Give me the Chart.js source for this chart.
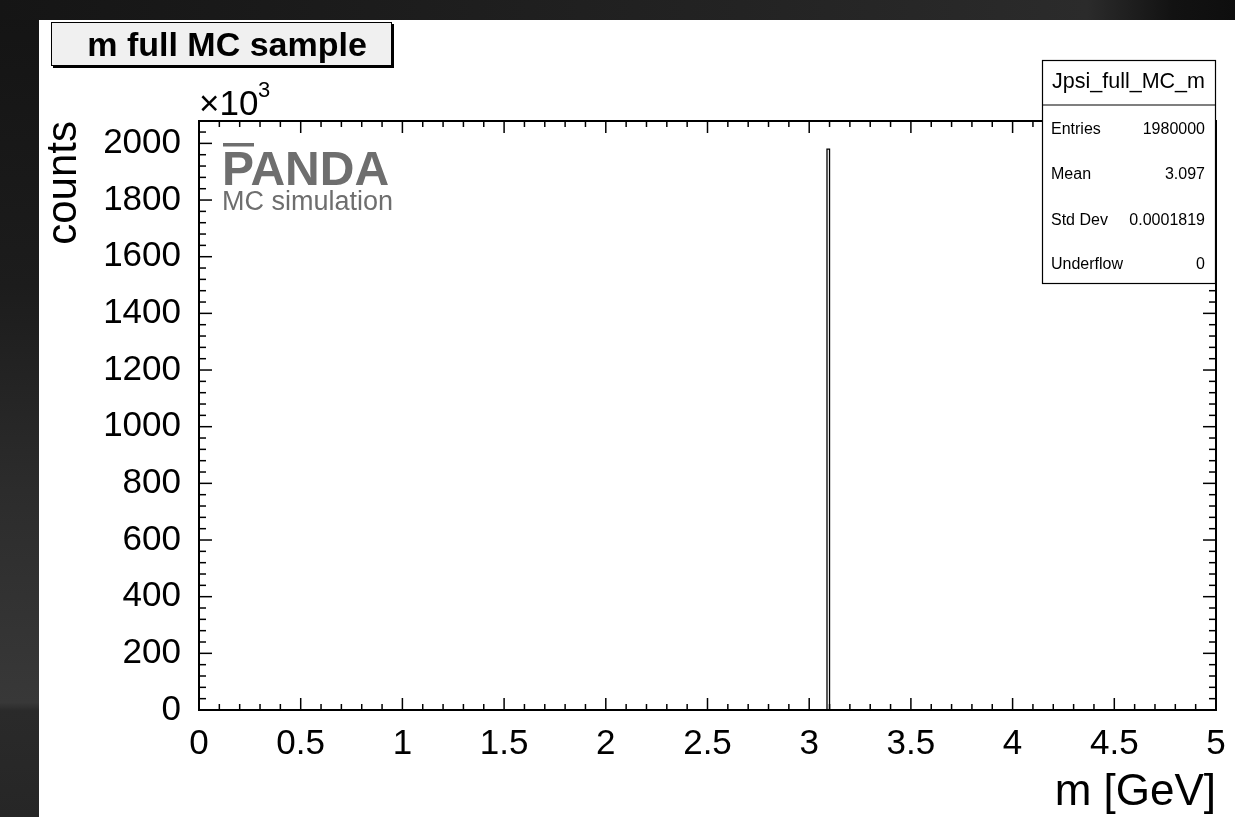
<!DOCTYPE html>
<html><head><meta charset="utf-8">
<script src="https://cdn.jsdelivr.net/npm/chart.js@4.4.1/dist/chart.umd.min.js"></script>
<style>html,body{margin:0;padding:0;background:#1b1b1b;overflow:hidden}canvas{display:block}</style>
</head><body>
<canvas id="c" width="1235" height="817"></canvas>
<script>
// ---- data ----
const xTickValues = [0, 0.5, 1, 1.5, 2, 2.5, 3, 3.5, 4, 4.5, 5];
const xTickLabels = ['0', '0.5', '1', '1.5', '2', '2.5', '3', '3.5', '4', '4.5', '5'];
const yTickValues = [0, 200, 400, 600, 800, 1000, 1200, 1400, 1600, 1800, 2000];
const yTickLabels = ['0', '200', '400', '600', '800', '1000', '1200', '1400', '1600', '1800', '2000'];
const xRange = [0, 5];
const yRange = [0, 2079];
const xMinorStep = 0.1;
const yMinorStep = 40;
// histogram: non-empty bins (counts in units of 10^3)
const binLow = [3.0875];
const binHigh = [3.1];
const binCounts = [1980];
const plotTitle = 'm full MC sample';
const xTitle = 'm [GeV]';
const yTitle = 'counts';
const statsName = 'Jpsi_full_MC_m';
const statsLabels = ['Entries', 'Mean', 'Std Dev', 'Underflow'];
const statsValues = ['1980000', '3.097', '0.0001819', '0'];

const FONT = "'Liberation Sans', Arial, Helvetica, sans-serif";

const histPts = [{x: xRange[0], y: 0}];
binLow.forEach((lo, i) => {
  histPts.push({x: lo, y: 0}, {x: lo, y: binCounts[i]}, {x: binHigh[i], y: binCounts[i]}, {x: binHigh[i], y: 0});
});
histPts.push({x: xRange[1], y: 0});

const bgPlugin = {
  id: 'bg',
  beforeDraw(chart) {
    const c = chart.ctx, W = chart.width, H = chart.height;
    c.save();
    const g = c.createLinearGradient(0, 0, 0, H);
    g.addColorStop(0, '#141414'); g.addColorStop(0.35, '#1c1c1c');
    g.addColorStop(0.6, '#2c2c2c'); g.addColorStop(0.86, '#383838');
    g.addColorStop(0.87, '#2a2a2a'); g.addColorStop(1, '#262626');
    c.fillStyle = g; c.fillRect(0, 0, W, H);
    const g2 = c.createLinearGradient(0, 0, W, 0);
    g2.addColorStop(0, '#151515'); g2.addColorStop(0.6, '#232323');
    g2.addColorStop(0.88, '#2b2b2b'); g2.addColorStop(0.95, '#121212'); g2.addColorStop(1, '#0e0e0e');
    c.fillStyle = g2; c.fillRect(0, 0, W, 20);
    c.fillStyle = '#ffffff'; c.fillRect(39, 20, W - 39, H - 20);
    c.restore();
  }
};

const framePlugin = {
  id: 'frame',
  afterDraw(chart) {
    const c = chart.ctx, a = chart.chartArea, xs = chart.scales.x, ys = chart.scales.y;
    c.save();
    c.strokeStyle = '#000';
    c.lineWidth = 2;
    c.strokeRect(a.left, a.top, a.right - a.left, a.bottom - a.top);
    c.lineWidth = 1.5;
    const seg = (x1, y1, x2, y2) => { c.beginPath(); c.moveTo(x1, y1); c.lineTo(x2, y2); c.stroke(); };
    // x ticks
    for (let v = xRange[0]; v <= xRange[1] + 1e-9; v += xMinorStep) {
      const vv = Math.round(v * 1000) / 1000;
      const isMajor = xTickValues.some(t => Math.abs(t - vv) < 1e-6);
      const L = isMajor ? 12 : 6;
      const px = xs.getPixelForValue(vv);
      seg(px, a.bottom, px, a.bottom - L);
      seg(px, a.top, px, a.top + L);
    }
    for (let v = yRange[0]; v <= yRange[1]; v += yMinorStep) {
      const isMajor = yTickValues.includes(v);
      const L = isMajor ? 13 : 7;
      const py = ys.getPixelForValue(v);
      seg(a.left, py, a.left + L, py);
      seg(a.right, py, a.right - L, py);
    }
    // x10^3 multiplier
    c.fillStyle = '#000';
    c.textBaseline = 'alphabetic';
    c.textAlign = 'left';
    c.font = '35px ' + FONT;
    c.fillText('\u00d710', 199, 115);
    c.font = '22px ' + FONT;
    c.fillText('3', 258, 97);
    // PANDA logo
    c.fillStyle = '#6e6e6e';
    c.font = 'bold 48px ' + FONT;
    c.fillText('PANDA', 222, 185);
    c.fillRect(223, 143, 31, 3.5);
    c.font = '27px ' + FONT;
    c.fillText('MC simulation', 222, 210);
    // title box
    c.fillStyle = '#000';
    c.fillRect(53, 24, 341, 44);
    c.fillStyle = '#f0f0f0';
    c.fillRect(51, 22, 341, 44);
    c.lineWidth = 1; c.strokeStyle = '#000';
    c.strokeRect(51.5, 22.5, 340, 43);
    c.fillStyle = '#000';
    c.font = 'bold 34px ' + FONT;
    c.textAlign = 'center';
    c.fillText(plotTitle, 227, 56);
    // stats box
    c.fillStyle = '#fff';
    c.fillRect(1042, 60, 174, 224);
    c.strokeStyle = '#000'; c.lineWidth = 1.2;
    c.strokeRect(1042.5, 60.5, 173, 223);
    seg(1042.5, 105, 1215.5, 105);
    c.fillStyle = '#000';
    c.font = '21.5px ' + FONT;
    c.textAlign = 'center';
    c.fillText(statsName, 1128.5, 88);
    const rowBase = [133.5, 179, 224.5, 268.5];
    c.font = '16px ' + FONT;
    statsLabels.forEach((t, i) => {
      c.textAlign = 'left'; c.fillText(t, 1051, rowBase[i]);
      c.textAlign = 'right'; c.fillText(statsValues[i], 1205, rowBase[i]);
    });
    c.restore();
  }
};

new Chart(document.getElementById('c').getContext('2d'), {
  type: 'line',
  data: { datasets: [{ data: histPts, borderColor: '#000', borderWidth: 1.3, pointRadius: 0, fill: false, tension: 0 }] },
  options: {
    responsive: false, animation: false, devicePixelRatio: 1,
    layout: { padding: { left: 39, top: 121, right: 19, bottom: 0 } },
    plugins: { legend: { display: false }, tooltip: { enabled: false } },
    scales: {
      x: {
        type: 'linear', min: xRange[0], max: xRange[1],
        grid: { display: false, drawTicks: false }, border: { display: false },
        afterBuildTicks: s => { s.ticks = xTickValues.map(v => ({ value: v })); },
        afterFit: s => { s.height = 107; s.paddingLeft = 0; s.paddingRight = 0; },
        ticks: { color: '#000', font: { family: FONT, size: 35 }, padding: 13, maxRotation: 0, autoSkip: false,
                 callback: v => xTickLabels[xTickValues.indexOf(v)] },
        title: { display: true, text: xTitle, align: 'end', color: '#000', font: { family: FONT, size: 44 }, padding: { top: 0, bottom: -2 } }
      },
      y: {
        type: 'linear', min: yRange[0], max: yRange[1],
        grid: { display: false, drawTicks: false }, border: { display: false },
        afterBuildTicks: s => { s.ticks = yTickValues.map(v => ({ value: v })); },
        afterFit: s => { s.width = 160; s.paddingTop = 0; s.paddingBottom = 0; },
        ticks: { color: '#000', font: { family: FONT, size: 35 }, padding: 18, autoSkip: false,
                 callback: v => yTickLabels[yTickValues.indexOf(v)] },
        title: { display: true, text: yTitle, align: 'end', color: '#000', font: { family: FONT, size: 42 }, padding: { top: 0, bottom: 0 } }
      }
    }
  },
  plugins: [bgPlugin, framePlugin]
});
</script>
</body></html>
